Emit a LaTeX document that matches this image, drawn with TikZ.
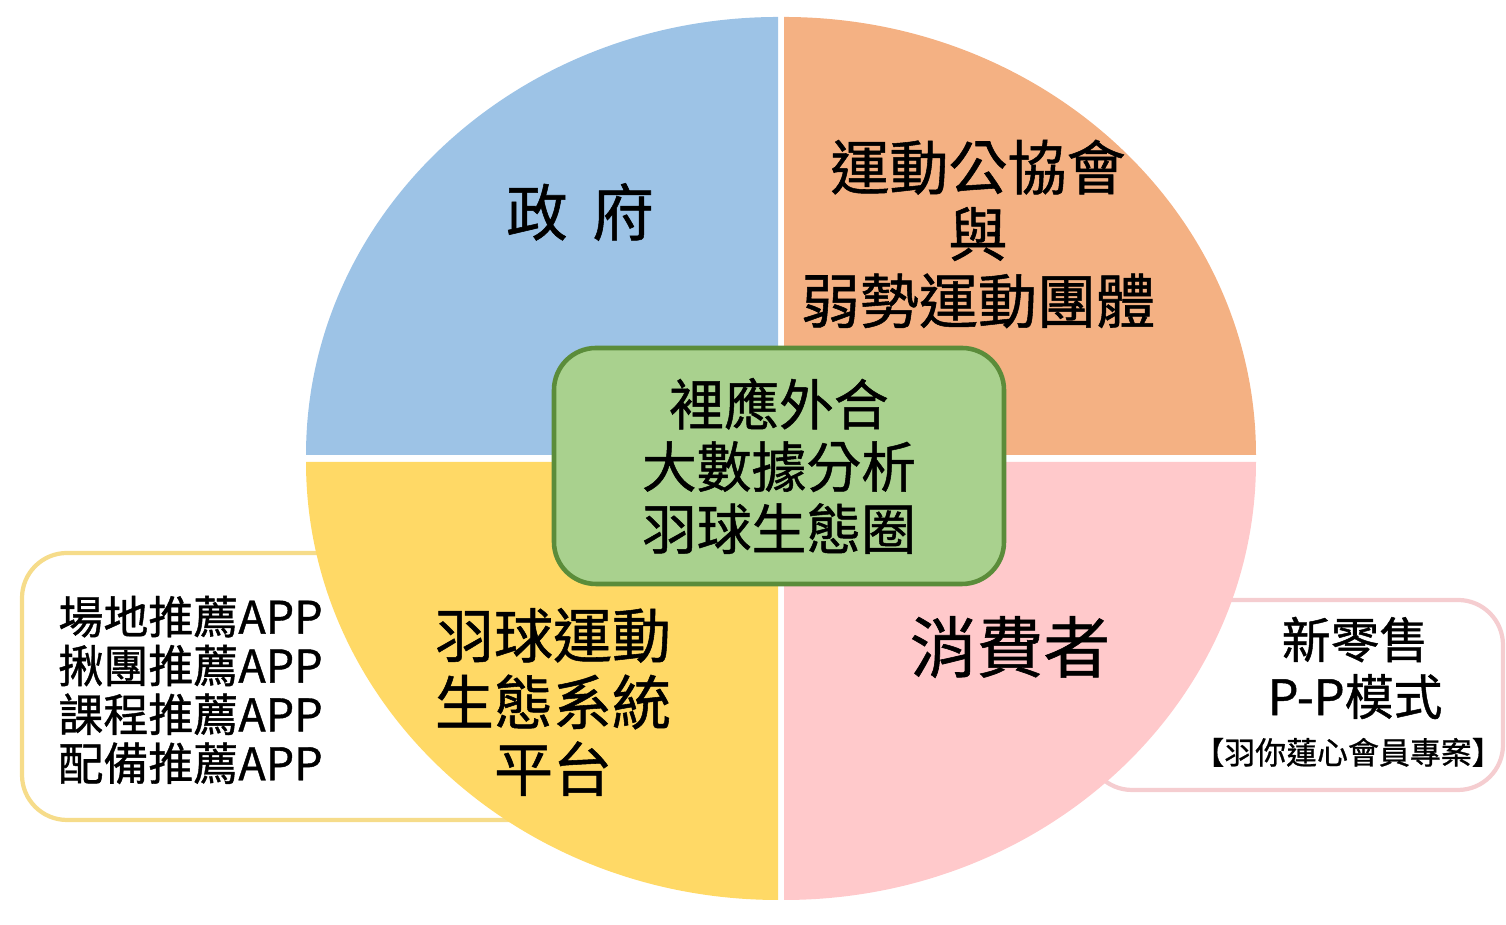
\documentclass[tikz,border=0pt]{standalone}
\usepackage{fontspec}
\setmainfont{Noto Sans CJK TC}[FakeBold=0.9]
\usepackage{tikz}
\usetikzlibrary{positioning}

\definecolor{govblue}{HTML}{9DC3E6}
\definecolor{assocorange}{HTML}{F4B183}
\definecolor{platyellow}{HTML}{FFD966}
\definecolor{userpink}{HTML}{FFC9CB}
\definecolor{coregreen}{HTML}{A9D18E}
\definecolor{coreedge}{HTML}{5B8C3A}
\definecolor{appedge}{HTML}{F6DC8A}
\definecolor{retailedge}{HTML}{F5CDD0}

\begin{document}
\begin{tikzpicture}[
    sidebox/.style={draw, line width=1.2pt, rounded corners=0.45cm, fill=white},
    core/.style={draw=coreedge, line width=1.3pt, fill=coregreen, rounded corners=0.42cm,
        minimum width=4.5cm, minimum height=2.36cm},
    big/.style={align=center, font=\fontsize{16.8}{19}\selectfont},
    small/.style={align=left, font=\fontsize{12.8}{13.9}\selectfont},
]
\useasboundingbox (0,0) rectangle (15.06,9.25);

% === side boxes (behind the circle) ===
\node[sidebox, draw=appedge, minimum width=5.4cm, minimum height=2.67cm] at (2.92,2.385) (appbox) {};
\node[sidebox, draw=retailedge, minimum width=4.16cm, minimum height=1.9cm] at (12.95,2.30) (retailbox) {};

% === four quarters ===
\fill[govblue] (7.78,4.70) -- ++(0,4.38) arc[start angle=90, end angle=180, x radius=4.72, y radius=4.38] -- cycle;
\fill[assocorange] (7.84,4.70) -- ++(4.72,0) arc[start angle=0, end angle=90, x radius=4.72, y radius=4.38] -- cycle;
\fill[platyellow] (7.78,4.63) -- ++(-4.72,0) arc[start angle=180, end angle=270, x radius=4.72, y radius=4.38] -- cycle;
\fill[userpink] (7.84,4.63) -- ++(0,-4.38) arc[start angle=270, end angle=360, x radius=4.72, y radius=4.38] -- cycle;

% === labels ===
\node[big, font=\fontsize{17.5}{19}\selectfont] at (5.80,7.13) (gov) {政\hspace{0.4em}府};
\node[big] at (9.78,6.91) (assoc) {運動公協會\\與\\弱勢運動團體};
\node[big] at (5.53,2.23) (platform) {羽球運動\\生態系統\\平台};
\node[align=center, font=\fontsize{19}{22}\selectfont] at (10.10,2.78) (consumer) {消費者};

% === center ===
\node[core] at (7.79,4.59) (hub) {};
\node[align=center, font=\fontsize{15.6}{17.7}\selectfont] at (hub) (hubtext) {裡應外合\\大數據分析\\羽球生態圈};

% === side texts ===
\node[small, anchor=west] at (0.46,2.35) (apps) {場地推薦APP\\揪團推薦APP\\課程推薦APP\\配備推薦APP};
\node[align=center, font=\fontsize{13.9}{16.2}\selectfont] at (13.55,2.57) (retail) {新零售\\P-P模式};
\node[font=\fontsize{8.8}{10}\selectfont, below=-0.06cm of retail.south, xshift=-0.07cm] (member) {【羽你蓮心會員專案】};

\end{tikzpicture}
\end{document}
